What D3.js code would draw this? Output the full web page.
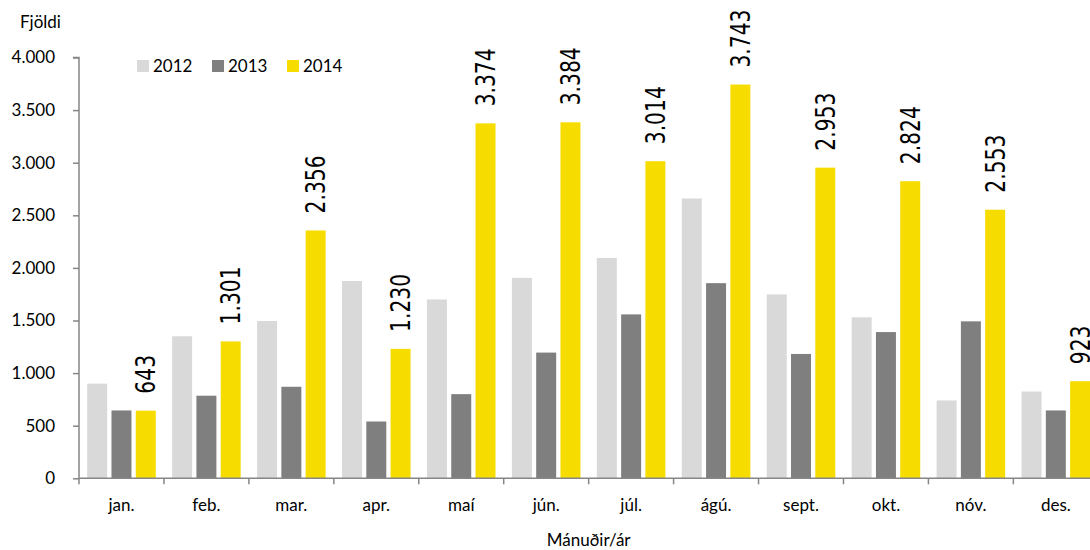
<!DOCTYPE html>
<html>
<head>
<meta charset="utf-8">
<script src="https://cdn.jsdelivr.net/npm/d3@7"></script>
<style>
  html, body { margin: 0; padding: 0; background: #fff; }
  svg { display: block; }
</style>
</head>
<body>
<svg id="chart" width="1090" height="550"></svg>
<script>
// Monthly counts, 2012–2014
const months = ["jan.", "feb.", "mar.", "apr.", "maí", "jún.", "júl.", "ágú.", "sept.", "okt.", "nóv.", "des."];
const seriesNames = ["2012", "2013", "2014"];
const values2012 = [900, 1350, 1495, 1875, 1700, 1905, 2095, 2660, 1748, 1530, 740, 825];
const values2013 = [645, 785, 870, 540, 800, 1195, 1558, 1855, 1182, 1390, 1492, 645];
const values2014 = [643, 1301, 2356, 1230, 3374, 3384, 3014, 3743, 2953, 2824, 2553, 923];
const yTicks = [0, 500, 1000, 1500, 2000, 2500, 3000, 3500, 4000];
const colors = ["#d9d9d9", "#7f7f7f", "#f7dc00"];

const seriesValues = [values2012, values2013, values2014];
const rows = months.map((m, i) => ({ month: m, vals: seriesValues.map((s, k) => ({ key: seriesNames[k], value: s[i] })) }));

const svg = d3.select("#chart");
const font = "Lato, 'Open Sans', sans-serif";
const labelFont = "'DejaVu Sans', Verdana, sans-serif";
const axisColor = "#868686";

const plotLeft = 79, plotRight = 1098.3, plotTop = 57.5, plotBottom = 478.3;

const locale = d3.formatLocale({ decimal: ",", thousands: ".", grouping: [3], currency: ["", ""] });
const fmt = locale.format(",");

const x0 = d3.scaleBand().domain(months).range([plotLeft, plotRight]).paddingInner(0.193).paddingOuter(0.0965);
const x1 = d3.scaleBand().domain(seriesNames).range([0, x0.bandwidth()]).paddingInner(0.177).paddingOuter(0);
const y = d3.scaleLinear().domain([0, 4000]).range([plotBottom, plotTop]);
const color = d3.scaleOrdinal().domain(seriesNames).range(colors);

// Bars
const groups = svg.append("g").selectAll("g").data(rows).join("g")
  .attr("transform", d => `translate(${x0(d.month)},0)`);
groups.selectAll("rect").data(d => d.vals).join("rect")
  .attr("x", d => x1(d.key))
  .attr("width", x1.bandwidth())
  .attr("y", d => y(d.value))
  .attr("height", d => y(0) - y(d.value))
  .attr("fill", d => color(d.key));

// Value labels on the 2014 bars (rotated)
const labelSize = 26, labelScale = 0.78, labelGap = 17;
groups.append("text")
  .datum(d => d.vals[2])
  .attr("transform", d => {
    const cx = x1(d.key) + x1.bandwidth() / 2 + labelSize * 0.729 / 2;
    const cy = y(d.value) - labelGap;
    return `translate(${cx},${cy}) rotate(-90) scale(${labelScale},1)`;
  })
  .attr("font-family", labelFont)
  .attr("font-size", labelSize)
  .attr("fill", "#000")
  .text(d => fmt(d.value));

// Y axis
const yAxis = d3.axisLeft(y).tickValues(yTicks).tickFormat(fmt).tickSize(6).tickPadding(18);
const gy = svg.append("g").attr("transform", `translate(${plotLeft},0)`).call(yAxis);
gy.select(".domain").attr("stroke", axisColor).attr("stroke-width", 1.5).attr("d", `M-6,${plotTop}H0V${plotBottom}`);
gy.selectAll(".tick line").attr("stroke", axisColor).attr("stroke-width", 1.5);
gy.selectAll(".tick text").attr("font-family", font).attr("font-size", 17).attr("fill", "#000");

// X axis with ticks on category boundaries
const xAxis = d3.axisBottom(x0).tickSize(0).tickPadding(21);
const gx = svg.append("g").attr("transform", `translate(0,${plotBottom})`).call(xAxis);
gx.select(".domain").attr("stroke", axisColor).attr("stroke-width", 1.5).attr("d", `M${plotLeft},0H${plotRight}`);
gx.selectAll(".tick text").attr("font-family", font).attr("font-size", 17).attr("fill", "#000");
const step = x0.step();
gx.selectAll("line.bound").data(d3.range(months.length + 1)).join("line")
  .attr("class", "bound")
  .attr("x1", i => plotLeft + i * step).attr("x2", i => plotLeft + i * step)
  .attr("y1", 0).attr("y2", 6)
  .attr("stroke", axisColor).attr("stroke-width", 1.5);

// Axis titles
svg.append("text").attr("x", 20).attr("y", 28)
  .attr("font-family", font).attr("font-size", 17).attr("fill", "#000").text("Fjöldi");
svg.append("text").attr("x", (plotLeft + plotRight) / 2).attr("y", 546).attr("text-anchor", "middle")
  .attr("font-family", font).attr("font-size", 17).attr("fill", "#000").text("Mánuðir/ár");

// Legend
const legendX = [137, 212, 287];
const legend = svg.append("g").selectAll("g").data(seriesNames).join("g")
  .attr("transform", (d, i) => `translate(${legendX[i]},60)`);
legend.append("rect").attr("width", 12).attr("height", 12).attr("fill", d => color(d));
legend.append("text").attr("x", 16).attr("y", 12)
  .attr("font-family", font).attr("font-size", 17).attr("fill", "#000").text(d => d);
</script>
</body>
</html>
